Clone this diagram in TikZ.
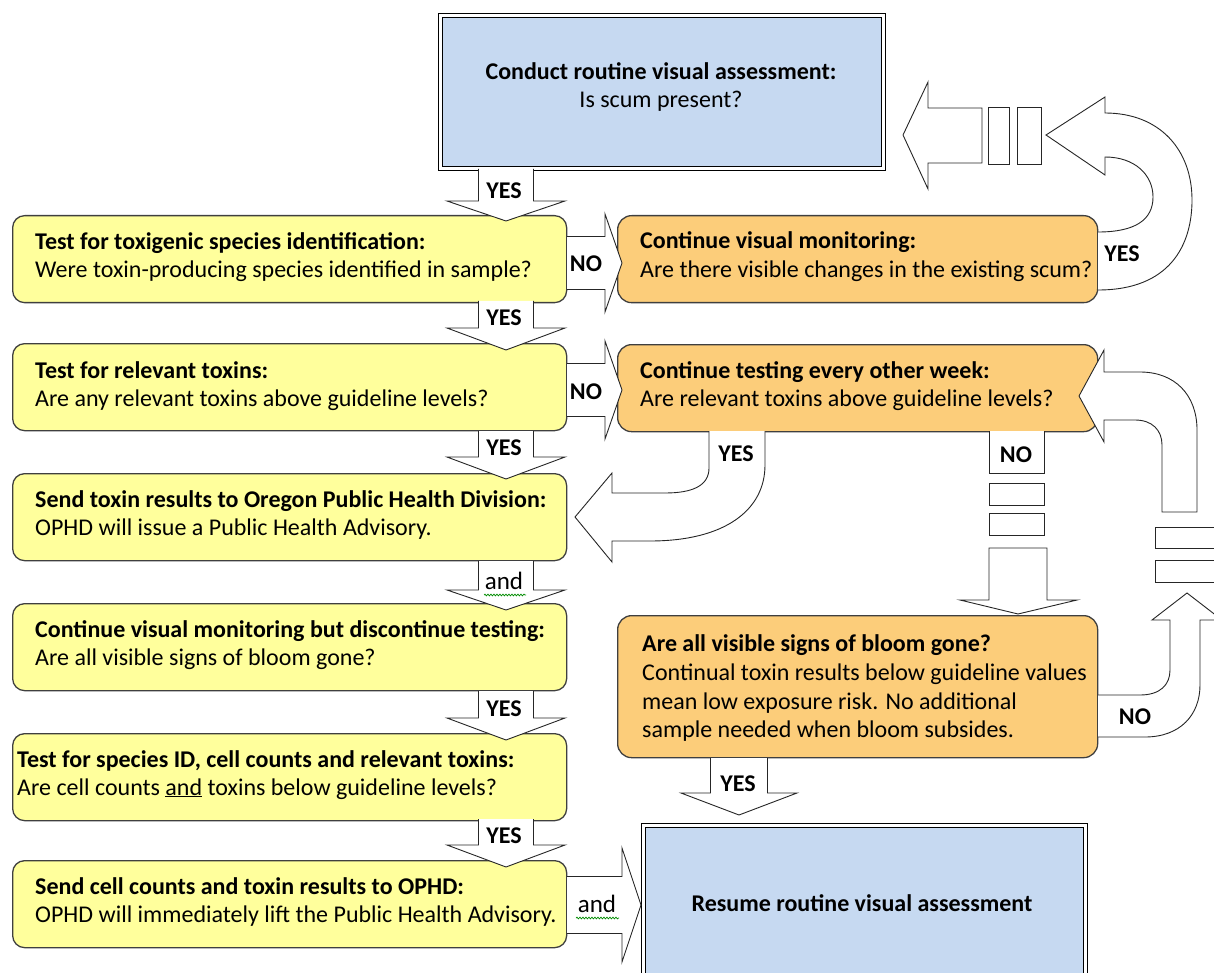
\documentclass[tikz,border=0pt]{standalone}
\usepackage{fontspec}
\setmainfont{Carlito}
\usetikzlibrary{decorations.pathmorphing}
\definecolor{yel}{HTML}{FFFF9C}
\definecolor{org}{HTML}{FCCD7A}
\definecolor{blu}{HTML}{C6D9F1}
\definecolor{edge}{HTML}{3F3F3F}
\newcommand\blkdn[6]{\draw[blk] ({#1-#5},#2) -- ({#1-#5},#3) -- ({#1-#6},#3) -- (#1,#4) -- ({#1+#6},#3) -- ({#1+#5},#3) -- ({#1+#5},#2);}
\newcommand\blkrt[6]{\draw[blk] (#2,{#1-#5}) -- (#3,{#1-#5}) -- (#3,{#1-#6}) -- (#4,#1) -- (#3,{#1+#6}) -- (#3,{#1+#5}) -- (#2,{#1+#5});}
\newcommand\squig[3]{\draw[green!55!black, line width=0.7pt, decorate, decoration={snake, amplitude=0.9pt, segment length=3pt}] (#1,#3) -- (#2,#3);}
\begin{document}
\begin{tikzpicture}[x=1pt,y=-1pt,
 ybox/.style={draw=edge, line width=1.3pt, fill=yel, rounded corners=12pt, minimum width=554pt, minimum height=87pt, anchor=north west, inner sep=0pt},
 obox/.style={draw=edge, line width=1.3pt, fill=org, rounded corners=14pt, minimum width=480pt, minimum height=87pt, anchor=north west, inner sep=0pt},
 bbox/.style={draw=black, line width=0.9pt, double=white, double distance=2.6pt, fill=blu, anchor=north west, inner sep=0pt},
 txt/.style={anchor=base west, inner sep=0pt, font=\fontsize{24}{28}\selectfont},
 ctxt/.style={anchor=base, inner sep=0pt, font=\fontsize{24}{28}\selectfont\bfseries},
 lbl/.style={anchor=base, inner sep=0pt, font=\fontsize{24}{28}\selectfont\bfseries},
 andlbl/.style={anchor=base, inner sep=0pt, font=\fontsize{25}{28}\selectfont},
 blk/.style={draw=black!85, line width=0.9pt, fill=white, line join=miter},
]
\useasboundingbox (0,0) rectangle (1214,973);
\clip (0,0) rectangle (1214,973);

% boxes
\node[bbox, minimum width=443pt, minimum height=153pt] (top) at (440,15) {};
\node[ctxt] (topa) at (661,80) {Conduct routine visual assessment:};
\node[ctxt, font=\fontsize{24}{28}\selectfont] (topb) at (661,108) {Is scum present?};

\node[ybox] (y1) at (12,215) {};
\node[txt] (y1a) at (35,250) {\textbf{Test for toxigenic species identification:}};
\node[txt] (y1b) at (35,278) {Were toxin-producing species identified in sample?};

\node[ybox] (y2) at (12,343) {};
\node[txt] (y2a) at (35,378) {\textbf{Test for relevant toxins:}};
\node[txt] (y2b) at (35,406) {Are any relevant toxins above guideline levels?};

\node[ybox] (y3) at (12,473) {};
\node[txt] (y3a) at (35,507) {\textbf{Send toxin results to Oregon Public Health Division:}};
\node[txt] (y3b) at (35,535) {OPHD will issue a Public Health Advisory.};

\node[ybox] (y4) at (12,603) {};
\node[txt] (y4a) at (35,637) {\textbf{Continue visual monitoring but discontinue testing:}};
\node[txt] (y4b) at (35,665) {Are all visible signs of bloom gone?};

\node[ybox] (y5) at (12,733) {};
\node[txt] (y5a) at (17,767) {\textbf{Test for species ID, cell counts and relevant toxins:}};
\node[txt] (y5b) at (17,795) {Are cell counts \underline{and} toxins below guideline levels?};

\node[ybox] (y6) at (12,860) {};
\node[txt] (y6a) at (35,894) {\textbf{Send cell counts and toxin results to OPHD:}};
\node[txt] (y6b) at (35,922) {OPHD will immediately lift the Public Health Advisory.};

\node[obox] (o1) at (617,215) {};
\node[txt] (o1a) at (640,249) {\textbf{Continue visual monitoring:}};
\node[txt] (o1b) at (640,278) {Are there visible changes in the existing scum?};

\node[obox] (o2) at (617,344) {};
\node[txt] (o2a) at (640,378) {\textbf{Continue testing every other week:}};
\node[txt] (o2b) at (640,406) {Are relevant toxins above guideline levels?};

\node[obox, minimum height=142pt] (o3) at (617,615) {};
\node[txt] (o3a) at (642,651) {\textbf{Are all visible signs of bloom gone?}};
\node[txt] (o3b) at (642,680) {Continual toxin results below guideline values};
\node[txt] (o3c) at (642,709) {mean low exposure risk. No additional};
\node[txt] (o3d) at (642,737) {sample needed when bloom subsides.};

\node[bbox, minimum width=442pt, minimum height=180pt] (res) at (643,825) {};
\node[ctxt] (resa) at (862,911) {Resume routine visual assessment};

% down block arrows on the left
\blkdn{506}{169}{201}{221}{27.5}{59}
\node[lbl] (l0) at (504,199) {YES};
\blkdn{506}{301}{328}{350}{27.5}{59}
\node[lbl] (l1) at (504,325) {YES};
\blkdn{506}{431}{457}{479}{27.5}{59}
\node[lbl] (l2) at (504,455) {YES};
\blkdn{506}{561}{590}{610}{27.5}{59}
\node[andlbl] (l3) at (504,589) {and};
\squig{484}{526}{595}
\blkdn{506}{691}{718}{740}{27.5}{59}
\node[lbl] (l4) at (504,716) {YES};
\blkdn{506}{819}{845}{867}{27.5}{59}
\node[lbl] (l5) at (504,843) {YES};

% NO arrows to the right
\blkrt{263}{567}{605}{622}{26.5}{49}
\node[lbl] (n1) at (586,272) {NO};
\blkrt{390}{567}{605}{622}{26.5}{49}
\node[lbl] (n2) at (586,399) {NO};

% and arrow into resume box
\blkrt{905}{567}{622}{641}{28.5}{57}
\node[andlbl] (l6) at (597,912) {and};
\squig{576}{619}{918}

% YES from o3 to resume
\blkdn{739}{758}{793}{815}{28.5}{58}
\node[lbl] (l7) at (738,791) {YES};

% YES curved from o2 to y3
\draw[blk] (709,431) -- (709,468) .. controls (709,486) and (692,493) .. (665,493) -- (612,493) -- (612,473) -- (575,517) -- (612,562) -- (612,541) -- (650,541) .. controls (725,541) and (765,510) .. (765,465) -- (765,431);
\node[lbl] (l8) at (736,461) {YES};

% NO chain from o2 to o3
\draw[blk] (989,431) -- (989,473) -- (1044,473) -- (1044,431);
\node[lbl] (l9) at (1016,462) {NO};
\draw[blk] (989,483) rectangle (1044,505);
\draw[blk] (989,513) rectangle (1044,535);
\draw[blk] (989,548) -- (989,600) -- (960,600) -- (1018,614) -- (1077,600) -- (1047,600) -- (1047,548) -- cycle;

% NO loop from o3 up to o2
\draw[blk] (1098,737) -- (1145,737) .. controls (1180,737) and (1200,715) .. (1200,685) -- (1200,620) -- (1222,620) -- (1187,593) -- (1152,620) -- (1170,620) -- (1170,670) .. controls (1170,685) and (1160,695) .. (1140,695) -- (1098,695);
\node[lbl] (l10) at (1135,724) {NO};
\draw[blk] (1155,527) rectangle (1214,548);
\draw[blk] (1155,560) rectangle (1214,582);
\draw[blk] (1162,512) -- (1162,445) .. controls (1162,430) and (1152,420) .. (1135,420) -- (1104,420) -- (1104,442) -- (1079,396) -- (1104,350) -- (1104,372) -- (1140,372) .. controls (1175,372) and (1197,395) .. (1197,430) -- (1197,512) -- cycle;

% YES loop from o1 up to striped arrow
\draw[blk] (1098,290) .. controls (1170,290) and (1192,245) .. (1192,200) .. controls (1192,150) and (1160,113) .. (1105,113) -- (1105,97) -- (1046,135) -- (1105,175) -- (1105,157) .. controls (1135,157) and (1153,175) .. (1153,197) .. controls (1153,220) and (1135,232) .. (1098,232);
\node[lbl] (l11) at (1122,262) {YES};

% striped arrow back to top box
\draw[blk] (982,108) -- (928,108) -- (928,82) -- (903,135) -- (928,189) -- (928,163) -- (982,163) -- cycle;
\draw[blk] (988,107) rectangle (1009,164);
\draw[blk] (1017,107) rectangle (1041,164);
\end{tikzpicture}
\end{document}
